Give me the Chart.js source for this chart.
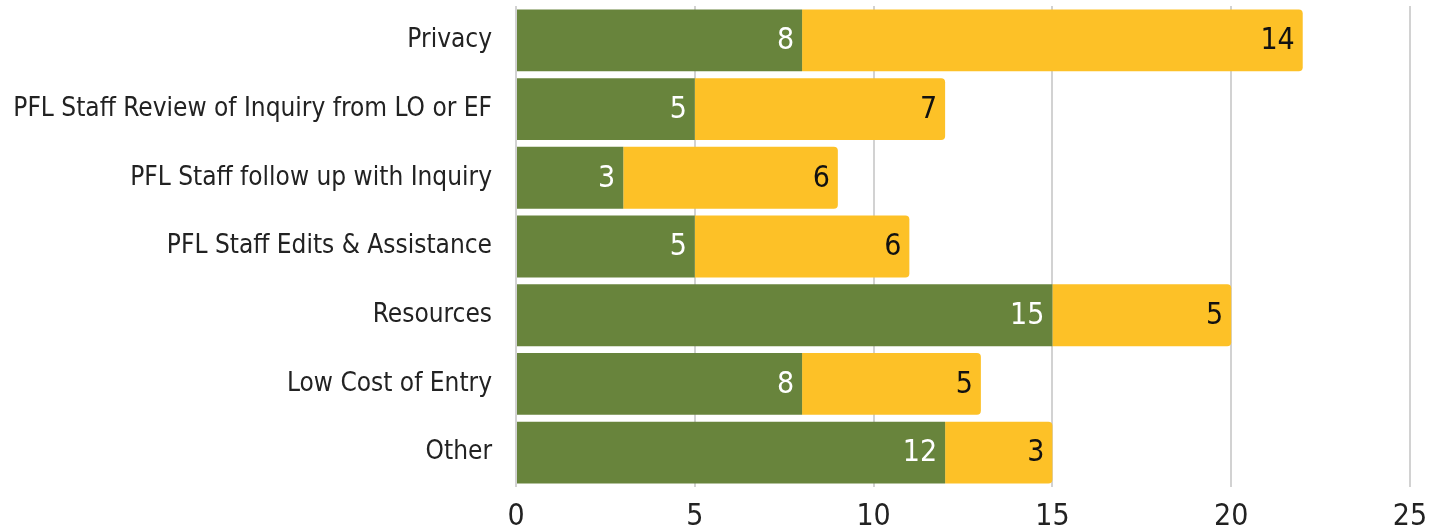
<!DOCTYPE html>
<html>
<head>
<meta charset="utf-8">
<script src="https://cdn.jsdelivr.net/npm/chart.js@4/dist/chart.umd.min.js"></script>
<style>
  html, body { margin: 0; padding: 0; background: #fff; }
  #wrap { width: 1441px; height: 529px; }
</style>
</head>
<body>
<div id="wrap"><canvas id="bar-chart"></canvas></div>
<script>
var categories = ['Privacy', 'PFL Staff Review of Inquiry from LO or EF', 'PFL Staff follow up with Inquiry',
    'PFL Staff Edits & Assistance', 'Resources', 'Low Cost of Entry', 'Other']
var greenValues = [8, 5, 3, 5, 15, 8, 12]
var yellowValues = [14, 7, 6, 6, 5, 5, 3]
var xTicks = [0, 5, 10, 15, 20, 25]

var fontName = "'Liberation Sans Narrow', 'DejaVu Sans Condensed', sans-serif"

// draws each value at the inner right end of its bar
var endLabels = {
    id: 'endLabels',
    afterDatasetsDraw: function (chart) {
        var ctx = chart.ctx
        ctx.save()
        ctx.font = '30px ' + fontName
        ctx.textAlign = 'right'
        ctx.textBaseline = 'middle'
        chart.data.datasets.forEach(function (ds, i) {
            chart.getDatasetMeta(i).data.forEach(function (bar, j) {
                ctx.fillStyle = ds.labelColor
                ctx.fillText(ds.data[j], bar.x - 8, bar.y + 1)
            })
        })
        ctx.restore()
    }
}

var barChart = new Chart(document.getElementById('bar-chart'), {
    type: 'bar',
    data: {
        labels: categories,
        datasets: [
            {
                label: 'Set 1',
                data: greenValues,
                backgroundColor: '#68843c',
                labelColor: '#ffffff',
                barPercentage: 0.9,
                categoryPercentage: 1
            }, {
                label: 'Set 2',
                data: yellowValues,
                backgroundColor: '#fdc127',
                labelColor: '#111111',
                borderRadius: 4,
                barPercentage: 0.9,
                categoryPercentage: 1
            }
        ]
    },
    options: {
        indexAxis: 'y',
        responsive: true,
        maintainAspectRatio: false,
        animation: false,
        layout: { padding: { top: 6, right: 31, left: 0, bottom: 0 } },
        plugins: {
            legend: { display: false },
            tooltip: { enabled: false }
        },
        scales: {
            x: {
                stacked: true,
                min: 0,
                max: 25,
                afterBuildTicks: function (axis) {
                    axis.ticks = xTicks.map(function (v) { return { value: v } })
                },
                grid: { color: '#d2d2d2', lineWidth: 2, drawTicks: false },
                border: { display: false },
                ticks: {
                    color: '#222',
                    padding: 12,
                    font: { family: fontName, size: 30 }
                },
                afterFit: function (axis) {
                    axis.height = 42
                    axis.paddingLeft = 0
                    axis.paddingRight = 0
                }
            },
            y: {
                stacked: true,
                grid: { display: false, drawTicks: false },
                border: { display: false },
                ticks: {
                    color: '#222',
                    padding: 24,
                    font: { family: fontName, size: 26 }
                },
                afterFit: function (axis) {
                    axis.width = 516
                    axis.paddingTop = 0
                    axis.paddingBottom = 0
                }
            }
        }
    },
    plugins: [endLabels]
});
</script>
</body>
</html>
